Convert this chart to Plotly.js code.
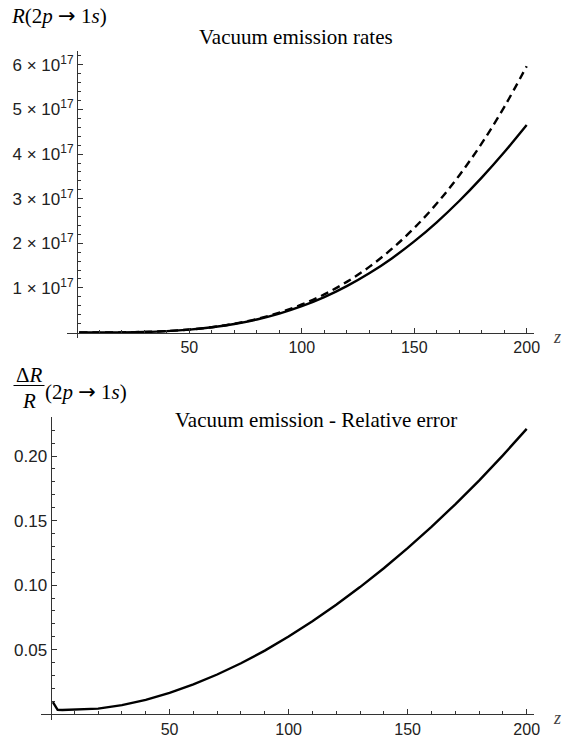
<!DOCTYPE html>
<html>
<head>
<meta charset="utf-8">
<script src="https://cdn.plot.ly/plotly-3.0.1.min.js"></script>
<style>html,body{margin:0;padding:0;background:#fff;}#chart{width:563px;height:737px;}</style>
</head>
<body>
<div id="chart"></div>
<script>
// ---- Data ----
const zRates = [1, 10, 20, 30, 40, 50, 60, 70, 80, 90, 100, 110, 120, 130, 140, 150, 160, 170, 180, 190, 200];
const rateDashed = [0, 0.00035e17, 0.0034e17, 0.0125e17, 0.032e17, 0.066e17, 0.119e17, 0.197e17, 0.304e17, 0.446e17, 0.628e17, 0.855e17, 1.135e17, 1.472e17, 1.873e17, 2.344e17, 2.891e17, 3.521e17, 4.239e17, 5.053e17, 5.97e17];
const rateSolid  = [0, 0.00035e17, 0.00335e17, 0.01245e17, 0.0315e17, 0.0649e17, 0.1163e17, 0.1909e17, 0.2920e17, 0.4240e17, 0.5902e17, 0.7934e17, 1.0387e17, 1.3270e17, 1.6612e17, 2.0423e17, 2.4712e17, 2.9485e17, 3.4717e17, 4.0399e17, 4.651e17];

const zErr = [1, 2, 3, 5, 10, 20, 30, 40, 50, 60, 70, 80, 90, 100, 110, 120, 130, 140, 150, 160, 170, 180, 190, 200];
const relErr = [0.0095, 0.0062, 0.0034, 0.0033, 0.0035, 0.0044, 0.0071, 0.0112, 0.0166, 0.0232, 0.0308, 0.0395, 0.0493, 0.0602, 0.0720, 0.0848, 0.0985, 0.1131, 0.1287, 0.1452, 0.1626, 0.1810, 0.2005, 0.2210];

// ---- Tick definitions ----
const xTickVals = [50, 100, 150, 200];
const xTickText = ['50', '100', '150', '200'];
const xMinorVals = [10, 20, 30, 40, 60, 70, 80, 90, 110, 120, 130, 140, 160, 170, 180, 190];
const rateTickVals = [1e17, 2e17, 3e17, 4e17, 5e17, 6e17];
const rateTickText = ['1 × 10<sup>17</sup>', '2 × 10<sup>17</sup>', '3 × 10<sup>17</sup>', '4 × 10<sup>17</sup>', '5 × 10<sup>17</sup>', '6 × 10<sup>17</sup>'];
const rateMinorVals = [0.2e17, 0.4e17, 0.6e17, 0.8e17, 1.2e17, 1.4e17, 1.6e17, 1.8e17, 2.2e17, 2.4e17, 2.6e17, 2.8e17, 3.2e17, 3.4e17, 3.6e17, 3.8e17, 4.2e17, 4.4e17, 4.6e17, 4.8e17, 5.2e17, 5.4e17, 5.6e17, 5.8e17, 6.2e17];
const errTickVals = [0.05, 0.10, 0.15, 0.20];
const errTickText = ['0.05', '0.10', '0.15', '0.20'];
const errMinorVals = [0.01, 0.02, 0.03, 0.04, 0.06, 0.07, 0.08, 0.09, 0.11, 0.12, 0.13, 0.14, 0.16, 0.17, 0.18, 0.19, 0.21, 0.22, 0.23];

// ---- Layout helpers (page pixels -> paper fractions) ----
const W = 563, H = 737;
const px = x => x / W;
const py = y => (H - y) / H;

const axisColor = '#333';
const yTickFont = {family: 'Liberation Sans, Arial, sans-serif', size: 17, color: '#222'};
const xTickFont = {family: 'Liberation Sans, Arial, sans-serif', size: 16, color: '#222'};
const serif = 'Liberation Serif, Times New Roman, serif';
const labelSize = 21;
const arrow = '<span style="font-family:DejaVu Sans">→</span>';

function xAxis(domain, range, pos) {
  return {
    domain: domain, range: range, anchor: 'free', position: pos,
    showline: true, linecolor: axisColor, linewidth: 1,
    showgrid: false, zeroline: false,
    tickmode: 'array', tickvals: xTickVals, ticktext: xTickText,
    ticks: 'inside', ticklen: 5, tickwidth: 1, tickcolor: axisColor,
    minor: {tickmode: 'array', tickvals: xMinorVals, ticks: 'inside', ticklen: 3, tickwidth: 1, tickcolor: axisColor},
    tickfont: xTickFont, fixedrange: true
  };
}
function yAxis(domain, range, pos, vals, text, minorVals) {
  return {
    domain: domain, range: range, anchor: 'free', position: pos,
    showline: true, linecolor: axisColor, linewidth: 1,
    showgrid: false, zeroline: false,
    tickmode: 'array', tickvals: vals, ticktext: text,
    ticks: 'inside', ticklen: 5, tickwidth: 1, tickcolor: axisColor,
    minor: {tickmode: 'array', tickvals: minorVals, ticks: 'inside', ticklen: 3, tickwidth: 1, tickcolor: axisColor},
    tickfont: yTickFont, fixedrange: true
  };
}

const traces = [
  {x: zRates, y: rateDashed, xaxis: 'x', yaxis: 'y', mode: 'lines', line: {color: '#000', width: 2.4, dash: '8px,5px', shape: 'spline'}, hoverinfo: 'skip', showlegend: false},
  {x: zRates, y: rateSolid, xaxis: 'x', yaxis: 'y', mode: 'lines', line: {color: '#000', width: 2.4, shape: 'spline'}, hoverinfo: 'skip', showlegend: false},
  {x: zErr, y: relErr, xaxis: 'x2', yaxis: 'y2', mode: 'lines', line: {color: '#000', width: 2.4, shape: 'linear'}, hoverinfo: 'skip', showlegend: false}
];

const layout = {
  width: W, height: H, autosize: false,
  margin: {l: 0, r: 0, t: 0, b: 0, pad: 0},
  paper_bgcolor: '#fff', plot_bgcolor: 'rgba(0,0,0,0)',
  showlegend: false,
  xaxis: xAxis([px(66.8), px(534.1)], [-4.5, 203.3], py(332.5)),
  yaxis: yAxis([py(338), py(50.7)], [-0.1233e17, 6.318e17], px(76.9), rateTickVals, rateTickText, rateMinorVals),
  xaxis2: xAxis([px(41), px(534)], [-3.99, 203.07], py(714.3)),
  yaxis2: yAxis([py(720), py(417)], [-0.00442, 0.2302], px(50.5), errTickVals, errTickText, errMinorVals),
  annotations: [
    {xref: 'paper', yref: 'paper', x: px(9), y: py(16), xanchor: 'left', yanchor: 'middle', showarrow: false,
     text: '<i>R</i>(2<i>p</i> ' + arrow + ' 1<i>s</i>)', font: {family: serif, size: labelSize, color: '#000'}},
    {xref: 'paper', yref: 'paper', x: px(197), y: py(37), xanchor: 'left', yanchor: 'middle', showarrow: false,
     text: 'Vacuum emission rates', font: {family: serif, size: labelSize, color: '#000'}},
    {xref: 'paper', yref: 'paper', x: px(551), y: py(337), xanchor: 'left', yanchor: 'middle', showarrow: false,
     text: '<i>z</i>', font: {family: serif, size: 18, color: '#444'}},
    {xref: 'paper', yref: 'paper', x: px(551), y: py(718), xanchor: 'left', yanchor: 'middle', showarrow: false,
     text: '<i>z</i>', font: {family: serif, size: 18, color: '#444'}},
    {xref: 'paper', yref: 'paper', x: px(29), y: py(375), xanchor: 'center', yanchor: 'middle', showarrow: false,
     text: 'Δ<i>R</i>', font: {family: serif, size: labelSize, color: '#000'}},
    {xref: 'paper', yref: 'paper', x: px(29), y: py(401), xanchor: 'center', yanchor: 'middle', showarrow: false,
     text: '<i>R</i>', font: {family: serif, size: labelSize, color: '#000'}},
    {xref: 'paper', yref: 'paper', x: px(43), y: py(392), xanchor: 'left', yanchor: 'middle', showarrow: false,
     text: '(2<i>p</i> ' + arrow + ' 1<i>s</i>)', font: {family: serif, size: labelSize, color: '#000'}},
    {xref: 'paper', yref: 'paper', x: px(173), y: py(420), xanchor: 'left', yanchor: 'middle', showarrow: false,
     text: 'Vacuum emission - Relative error', font: {family: serif, size: labelSize, color: '#000'}}
  ],
  shapes: [
    {type: 'line', xref: 'paper', yref: 'paper', x0: px(13.5), x1: px(44.5), y0: py(385.5), y1: py(385.5), line: {color: '#000', width: 1}}
  ]
};

Plotly.newPlot('chart', traces, layout, {displayModeBar: false, staticPlot: true});
</script>
</body>
</html>
